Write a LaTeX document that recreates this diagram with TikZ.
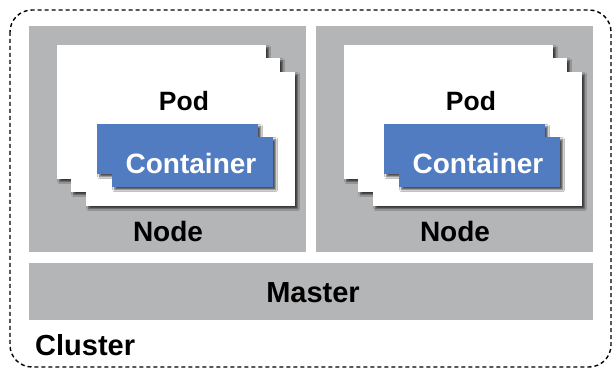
\documentclass[tikz,border=0pt]{standalone}
\usepackage{fontspec}
\setmainfont{Liberation Sans}
\usetikzlibrary{shadows.blur}

\definecolor{hostgray}{RGB}{180,181,183}
\definecolor{ctrblue}{RGB}{81,124,193}

\tikzset{
  hostbox/.style={fill=hostgray, draw=none, anchor=north west, inner sep=0pt},
  podbox/.style={fill=white, draw=none, anchor=north west, inner sep=0pt,
    minimum width=209pt, minimum height=134pt,
    blur shadow={shadow xshift=2.5pt, shadow yshift=-2.5pt,
      shadow blur radius=2pt, shadow opacity=70}},
  ctrbox/.style={fill=ctrblue, draw=none, anchor=north west, inner sep=0pt,
    minimum width=161pt, minimum height=50pt,
    blur shadow={shadow xshift=2.5pt, shadow yshift=-2.5pt,
      shadow blur radius=2pt, shadow opacity=70}},
  lbl/.style={inner sep=0pt, font=\bfseries\fontsize{#1}{#1}\selectfont},
  lbl/.default=26,
  clusterline/.style={draw=black, line width=1.4pt,
    dash pattern=on 4pt off 3pt, rounded corners=22pt},
}

\begin{document}
\begin{tikzpicture}[x=1pt, y=-1pt]
  \useasboundingbox (0,0) rectangle (613,371);

  % cluster outline
  \draw[clusterline] (10,10) rectangle (611,367);

  % two worker hosts, each running a stack of pods
  \foreach \i/\dx in {1/0, 2/287} {
    \begin{scope}[xshift=\dx pt]
      \node[hostbox, minimum width=277pt, minimum height=226pt] (host\i) at (29,26) {};
      \node[podbox] (podA\i) at (57,45) {};
      \node[podbox] (podB\i) at (71,58) {};
      \node[podbox] (podC\i) at (86,72) {};
      \node[lbl=26.5] (podlbl\i) at (184,101) {Pod};
      \node[ctrbox] (ctrA\i) at (97,124) {};
      \node[ctrbox] (ctrB\i) at (112,137) {};
      \node[lbl=28, text=white] (ctrlbl\i) at (191,163) {Container};
      \node[lbl=28] (hostlbl\i) at (168,231) {Node};
    \end{scope}
  }

  % control plane
  \node[hostbox, minimum width=564pt, minimum height=57pt] (master) at (29,263) {};
  \node[lbl=29] (masterlbl) at (313,293) {Master};

  \node[lbl=29, anchor=west] (clusterlbl) at (35,345) {Cluster};
\end{tikzpicture}
\end{document}
